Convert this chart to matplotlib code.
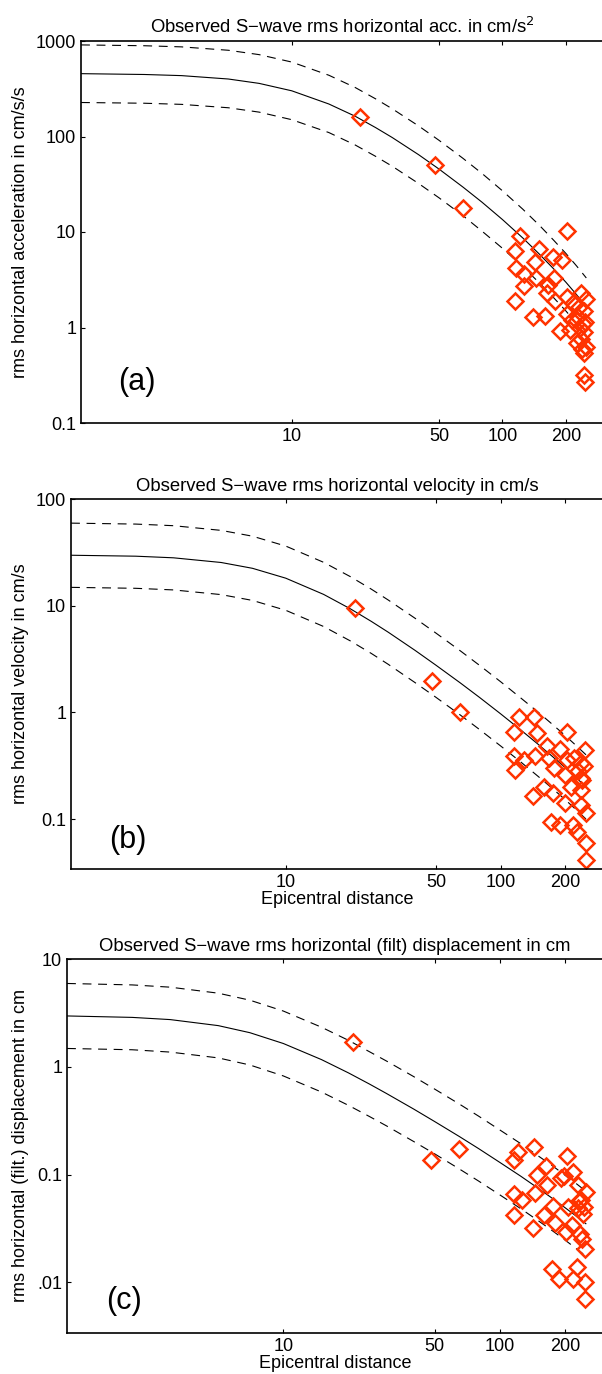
import matplotlib
matplotlib.use("Agg")
import matplotlib.pyplot as plt

plt.rcParams['font.family'] = ['Liberation Sans', 'DejaVu Sans']

# model curves, distance in km
curve_dist = [1, 2, 3, 5, 7, 10, 15, 20, 25, 30, 40, 50, 65, 80, 100, 125, 150, 175, 200, 225, 250]
acc_mean = [455, 446, 434, 400, 360, 301, 219, 163, 124, 97.5, 64.5, 45.6, 29.5, 20.5, 13.5, 8.64, 5.84, 4.11, 2.98, 2.2, 1.65]
acc_upper = [910, 892, 868, 800, 720, 602, 438, 326, 248, 195, 129, 91.2, 59, 41, 27, 17.3, 11.7, 8.2, 5.96, 4.4, 3.3]
acc_lower = [227, 223, 217, 200, 180, 150, 110, 81.5, 62, 48.8, 32.2, 22.8, 14.8, 10.2, 6.75, 4.32, 2.92, 2.05, 1.49, 1.1, 0.825]
vel_mean = [29.7, 29.1, 28.1, 25.4, 22.4, 18.1, 12.76, 9.34, 7.13, 5.64, 3.81, 2.77, 1.886, 1.376, 0.97, 0.677, 0.5, 0.3835, 0.303, 0.244, 0.2]
vel_upper = [59.4, 58.2, 56.2, 50.8, 44.8, 36.2, 25.5, 18.7, 14.3, 11.3, 7.62, 5.54, 3.77, 2.75, 1.94, 1.35, 1.0, 0.767, 0.606, 0.488, 0.4]
vel_lower = [14.85, 14.55, 14.05, 12.7, 11.2, 9.05, 6.38, 4.67, 3.57, 2.82, 1.9, 1.385, 0.943, 0.688, 0.485, 0.339, 0.25, 0.192, 0.152, 0.122, 0.1]
dis_mean = [2.964, 2.874, 2.742, 2.411, 2.073, 1.645, 1.167, 0.878, 0.692, 0.565, 0.406, 0.311, 0.226, 0.174, 0.13, 0.0968, 0.0751, 0.0603, 0.0495, 0.0414, 0.0351]
dis_upper = [5.93, 5.75, 5.48, 4.82, 4.15, 3.29, 2.33, 1.76, 1.38, 1.13, 0.812, 0.622, 0.452, 0.348, 0.26, 0.194, 0.15, 0.121, 0.099, 0.083, 0.0702]
dis_lower = [1.48, 1.44, 1.37, 1.21, 1.04, 0.823, 0.584, 0.439, 0.346, 0.283, 0.203, 0.156, 0.113, 0.087, 0.065, 0.0484, 0.0376, 0.0302, 0.0248, 0.0207, 0.0176]

# observations
acc_dist = [21, 48, 65, 202, 121, 149, 115, 173, 191, 143, 116, 127, 145, 175, 127, 165,
            162, 177, 115, 202, 236, 217, 230, 243, 140, 160, 202, 214, 247, 234, 188, 209,
            243, 225, 238, 245, 245, 247, 228, 240, 250, 235, 250]
acc_val = [160, 50, 18, 10.3, 9.1, 6.7, 6.3, 5.5, 5.1, 4.9, 4.2, 3.6, 3.3, 3.3, 2.7, 2.8,
           2.3, 1.9, 1.9, 2.1, 2.3, 1.8, 1.65, 1.5, 1.3, 1.32, 1.4, 1.2, 1.15, 1.0, 0.92, 0.95,
           0.9, 0.68, 0.6, 0.54, 0.32, 0.27, 1.3, 1.1, 2.0, 0.75, 0.62]

vel_dist = [21, 48, 65, 122, 143, 115, 148, 203, 165, 190, 247, 115, 128, 145, 168, 203,
            220, 117, 177, 199, 236, 245, 236, 159, 176, 142, 212, 236, 199, 236, 250, 172,
            189, 218, 228, 250, 250, 230, 240]
vel_val = [9.5, 1.95, 1.0, 0.9, 0.9, 0.65, 0.64, 0.65, 0.48, 0.45, 0.44, 0.39, 0.36, 0.39, 0.37, 0.36,
           0.37, 0.29, 0.30, 0.257, 0.245, 0.313, 0.336, 0.2, 0.177, 0.165, 0.2, 0.188, 0.142, 0.136, 0.114, 0.0935,
           0.0887, 0.0875, 0.076, 0.0594, 0.0417, 0.28, 0.234]

dis_dist = [21, 48, 65, 116, 122, 144, 204, 164, 219, 148, 191, 198, 166, 229, 250, 116,
            145, 127, 237, 245, 177, 206, 229, 116, 160, 180, 215, 142, 202, 235, 240, 248,
            174, 188, 217, 227, 248, 248, 232, 242]
dis_val = [1.7, 0.138, 0.173, 0.1366, 0.161, 0.179, 0.15, 0.12, 0.106, 0.1, 0.093, 0.0975, 0.08, 0.08, 0.0695, 0.0668,
           0.0677, 0.0577, 0.0586, 0.0504, 0.0513, 0.0504, 0.0486, 0.0421, 0.0421, 0.0356, 0.0338, 0.032, 0.0291, 0.0282, 0.0254, 0.0206,
           0.01346, 0.01067, 0.01067, 0.01396, 0.0101, 0.00697, 0.0568, 0.043]

xticks = [10, 50, 100, 200]
xticklabels = ['10', '50', '100', '200']

panels = [
    dict(box=[81, 41, 423], ylim=(0.1, 1000),
         yticks=[0.1, 1, 10, 100, 1000], yticklabels=['0.1', '1', '10', '100', '1000'],
         mean=acc_mean, upper=acc_upper, lower=acc_lower, dist=acc_dist, val=acc_val,
         title='Observed S\u2212wave rms horizontal acc. in cm/s$^2$',
         ylabel='rms horizontal acceleration in cm/s/s', xlabel=None, tag='(a)', tag_y=0.27),
    dict(box=[71, 499, 869], ylim=(0.034, 100),
         yticks=[0.1, 1, 10, 100], yticklabels=['0.1', '1', '10', '100'],
         mean=vel_mean, upper=vel_upper, lower=vel_lower, dist=vel_dist, val=vel_val,
         title='Observed S\u2212wave rms horizontal velocity in cm/s',
         ylabel='rms horizontal velocity in cm/s', xlabel='Epicentral distance', tag='(b)', tag_y=0.063),
    dict(box=[67, 959, 1333], ylim=(0.0034, 10),
         yticks=[0.01, 0.1, 1, 10], yticklabels=['.01', '0.1', '1', '10'],
         mean=dis_mean, upper=dis_upper, lower=dis_lower, dist=dis_dist, val=dis_val,
         title='Observed S\u2212wave rms horizontal (filt) displacement in cm',
         ylabel='rms horizontal (filt.) displacement in cm', xlabel='Epicentral distance', tag='(c)', tag_y=0.0068),
]

W, H = 602, 1374
fig = plt.figure(figsize=(W / 100, H / 100), dpi=100)

for p in panels:
    left, top, bottom = p['box']
    right = 603
    ax = fig.add_axes([left / W, 1 - bottom / H, (right - left) / W, (bottom - top) / H])
    ax.set_xscale('log')
    ax.set_yscale('log')
    ax.plot(curve_dist, p['mean'], color='black', lw=0.8)
    ax.plot(curve_dist, p['upper'], color='black', lw=0.8, ls=(0, (8, 6)))
    ax.plot(curve_dist, p['lower'], color='black', lw=0.8, ls=(0, (8, 6)))
    ax.plot(p['dist'], p['val'], ls='none', marker='D', ms=8.5, mfc='none',
            mec='#ff3300', mew=1.8)
    ax.set_xlim(1, 300)
    ax.set_ylim(*p['ylim'])
    ax.set_xticks(xticks)
    ax.set_xticklabels(xticklabels)
    ax.set_yticks(p['yticks'])
    ax.set_yticklabels(p['yticklabels'])
    ax.minorticks_off()
    ax.tick_params(direction='in', length=3, width=0.8, top=True, labelsize=13, pad=3.5)
    ax.spines['right'].set_visible(False)
    for s in ['left', 'top', 'bottom']:
        ax.spines[s].set_linewidth(1.2)
    ax.set_title(p['title'], fontsize=13.3, pad=6)
    fig.text(21 / W, 1 - (top + bottom) / 2 / H, p['ylabel'], rotation=90,
             ha='center', va='center', fontsize=13)
    if p['xlabel']:
        ax.set_xlabel(p['xlabel'], fontsize=13, labelpad=0)
    ax.text(1.84, p['tag_y'], p['tag'], fontsize=22, ha='center', va='center')

fig.savefig('out.png', dpi=100)
